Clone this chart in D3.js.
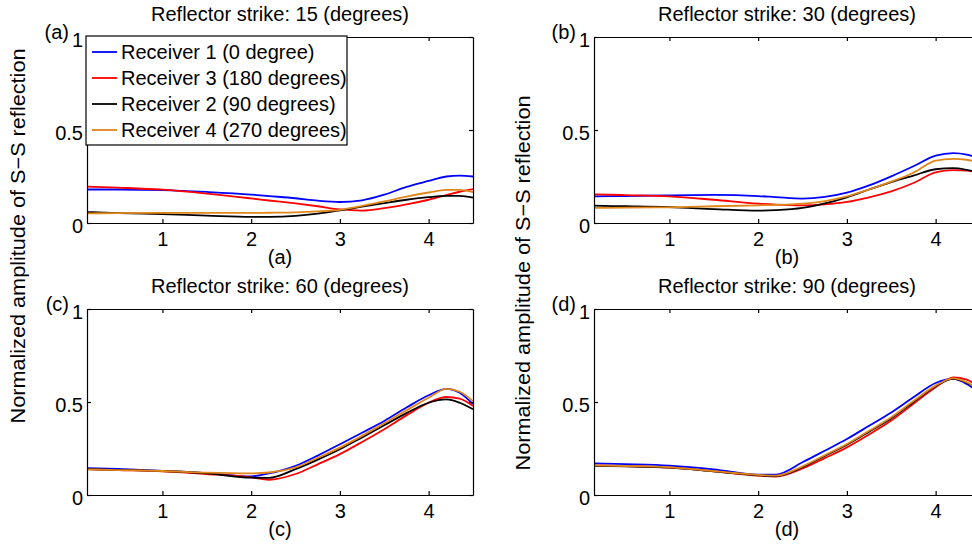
<!DOCTYPE html>
<html>
<head>
<meta charset="utf-8">
<script src="https://cdn.jsdelivr.net/npm/d3@7"></script>
<style>
  body { margin: 0; background: #fff; }
  svg text { font-family: 'Liberation Sans', Arial, Helvetica, sans-serif; fill: #000; }
</style>
</head>
<body>
<div id="chart"></div>
<script>
// sample positions along the x axis (shared by all panels)
const xs = [0.15, 0.5, 1, 1.5, 2, 2.2, 2.5, 2.75, 3, 3.25, 3.5, 3.75, 4, 4.2, 4.35, 4.5];

const receivers = ['Receiver 1 (0 degree)', 'Receiver 3 (180 degrees)', 'Receiver 2 (90 degrees)', 'Receiver 4 (270 degrees)'];
const strikes = [15, 30, 60, 90];
const letters = ['a', 'b', 'c', 'd'];
const xTicks = [1, 2, 3, 4];
const yTicks = [0, 0.5, 1];

// one row per receiver, in legend order: R1, R3, R2, R4
const strike15 = [
  [0.180, 0.180, 0.177, 0.167, 0.153, 0.145, 0.133, 0.120, 0.113, 0.122, 0.152, 0.194, 0.226, 0.250, 0.255, 0.250],
  [0.196, 0.190, 0.179, 0.158, 0.132, 0.121, 0.105, 0.090, 0.073, 0.067, 0.080, 0.100, 0.125, 0.150, 0.168, 0.182],
  [0.059, 0.053, 0.048, 0.040, 0.033, 0.033, 0.038, 0.050, 0.068, 0.088, 0.107, 0.125, 0.139, 0.146, 0.146, 0.137],
  [0.052, 0.053, 0.054, 0.054, 0.054, 0.055, 0.057, 0.062, 0.071, 0.092, 0.116, 0.142, 0.164, 0.178, 0.178, 0.166]
];
const strike30 = [
  [0.143, 0.145, 0.149, 0.151, 0.145, 0.139, 0.131, 0.140, 0.163, 0.202, 0.251, 0.305, 0.362, 0.376, 0.368, 0.345],
  [0.154, 0.150, 0.143, 0.125, 0.104, 0.099, 0.095, 0.100, 0.113, 0.138, 0.170, 0.215, 0.272, 0.284, 0.282, 0.268],
  [0.093, 0.090, 0.085, 0.075, 0.066, 0.069, 0.081, 0.105, 0.138, 0.180, 0.220, 0.255, 0.289, 0.295, 0.286, 0.270],
  [0.081, 0.083, 0.084, 0.090, 0.095, 0.097, 0.104, 0.118, 0.143, 0.180, 0.222, 0.270, 0.335, 0.345, 0.340, 0.325]
];
const strike60 = [
  [0.145, 0.140, 0.130, 0.118, 0.100, 0.116, 0.157, 0.212, 0.273, 0.335, 0.398, 0.470, 0.536, 0.571, 0.550, 0.488],
  [0.139, 0.134, 0.127, 0.113, 0.095, 0.082, 0.113, 0.165, 0.220, 0.285, 0.354, 0.428, 0.496, 0.527, 0.518, 0.479],
  [0.139, 0.135, 0.129, 0.116, 0.093, 0.092, 0.139, 0.190, 0.246, 0.310, 0.375, 0.440, 0.496, 0.514, 0.496, 0.461],
  [0.138, 0.134, 0.129, 0.120, 0.116, 0.121, 0.148, 0.200, 0.255, 0.318, 0.386, 0.455, 0.523, 0.571, 0.555, 0.505]
];
const strike90 = [
  [0.170, 0.166, 0.158, 0.138, 0.109, 0.110, 0.176, 0.238, 0.301, 0.372, 0.444, 0.525, 0.602, 0.624, 0.597, 0.545],
  [0.159, 0.155, 0.147, 0.127, 0.104, 0.099, 0.143, 0.198, 0.256, 0.325, 0.400, 0.490, 0.579, 0.632, 0.620, 0.575],
  [0.157, 0.154, 0.147, 0.127, 0.106, 0.102, 0.150, 0.210, 0.270, 0.340, 0.412, 0.500, 0.585, 0.625, 0.604, 0.558],
  [0.159, 0.156, 0.149, 0.128, 0.108, 0.104, 0.154, 0.214, 0.274, 0.345, 0.418, 0.505, 0.588, 0.627, 0.606, 0.560]
];
const panelsData = [strike15, strike30, strike60, strike90];

const colors = ['#0000ff', '#ff0000', '#000000', '#e0861a'];

const W = 972, H = 550;
const pw = 386, ph = 186;
const origins = [[87, 37], [594, 37], [87, 309], [594, 309]];

const svg = d3.select('#chart').append('svg')
  .attr('width', W)
  .attr('height', H);

const x = d3.scaleLinear().domain([0.15, 4.5]).range([0, pw]);
const y = d3.scaleLinear().domain([0, 1]).range([ph, 0]);

const line = d3.line()
  .x(d => x(d[0]))
  .y(d => y(d[1]))
  .curve(d3.curveMonotoneX);

// shared y labels (one on each column)
svg.append('text')
  .attr('transform', 'translate(25,236) rotate(-90)')
  .attr('text-anchor', 'middle')
  .attr('font-size', 20)
  .attr('textLength', 375)
  .attr('lengthAdjust', 'spacingAndGlyphs')
  .text('Normalized amplitude of S\u2212S reflection');

svg.append('text')
  .attr('transform', 'translate(530,283) rotate(-90)')
  .attr('text-anchor', 'middle')
  .attr('font-size', 20)
  .attr('textLength', 375)
  .attr('lengthAdjust', 'spacingAndGlyphs')
  .text('Normalized amplitude of S\u2212S reflection');

panelsData.forEach((series, i) => {
  const g = svg.append('g')
    .attr('transform', 'translate(' + origins[i][0] + ',' + origins[i][1] + ')');

  // curves
  series.forEach((vals, k) => {
    g.append('path')
      .datum(xs.map((xv, j) => [xv, vals[j]]))
      .attr('fill', 'none')
      .attr('stroke', colors[k])
      .attr('stroke-width', 1.8)
      .attr('d', line);
  });

  // axes, ticks pointing inward
  const bottom = g.append('g')
    .attr('transform', 'translate(0,' + ph + ')')
    .call(d3.axisBottom(x).tickValues(xTicks).tickSizeInner(-4).tickSizeOuter(0).tickPadding(9).tickFormat(d3.format('d')));
  const left = g.append('g')
    .call(d3.axisLeft(y).tickValues(yTicks).tickSizeInner(-4).tickSizeOuter(0).tickPadding(4).tickFormat(d => String(d)));
  left.selectAll('text').attr('dy', '0.45em');
  g.append('g')
    .call(d3.axisTop(x).tickValues(xTicks).tickSizeInner(-4).tickSizeOuter(0).tickFormat(''));
  g.append('g')
    .attr('transform', 'translate(' + pw + ',0)')
    .call(d3.axisRight(y).tickValues(yTicks).tickSizeInner(-4).tickSizeOuter(0).tickFormat(''));

  g.selectAll('.domain, .tick line').attr('stroke', '#000').attr('stroke-width', 1.2);
  g.selectAll('.tick text').attr('font-size', 20).attr('font-family', null).attr('fill', '#000');

  // title, x label and corner letter
  g.append('text')
    .attr('x', pw / 2)
    .attr('y', -16)
    .attr('text-anchor', 'middle')
    .attr('font-size', 20)
    .text('Reflector strike: ' + strikes[i] + ' (degrees)');

  g.append('text')
    .attr('x', pw / 2)
    .attr('y', ph + 41)
    .attr('text-anchor', 'middle')
    .attr('font-size', 20)
    .text('(' + letters[i] + ')');

  g.append('text')
    .attr('x', -18)
    .attr('y', 2)
    .attr('text-anchor', 'end')
    .attr('font-size', 20)
    .text('(' + letters[i] + ')');

  // legend only on the first panel
  if (i === 0) {
    const lg = g.append('g');
    lg.append('rect')
      .attr('x', -1).attr('y', -1)
      .attr('width', 261).attr('height', 109)
      .attr('fill', '#fff')
      .attr('stroke', '#000')
      .attr('stroke-width', 1.2);
    receivers.forEach((name, k) => {
      const ry = 15 + k * 26;
      lg.append('line')
        .attr('x1', 5).attr('x2', 30)
        .attr('y1', ry).attr('y2', ry)
        .attr('stroke', colors[k])
        .attr('stroke-width', 1.8);
      lg.append('text')
        .attr('x', 34)
        .attr('y', ry + 7)
        .attr('font-size', 20)
        .text(name);
    });
  }
});
</script>
</body>
</html>
